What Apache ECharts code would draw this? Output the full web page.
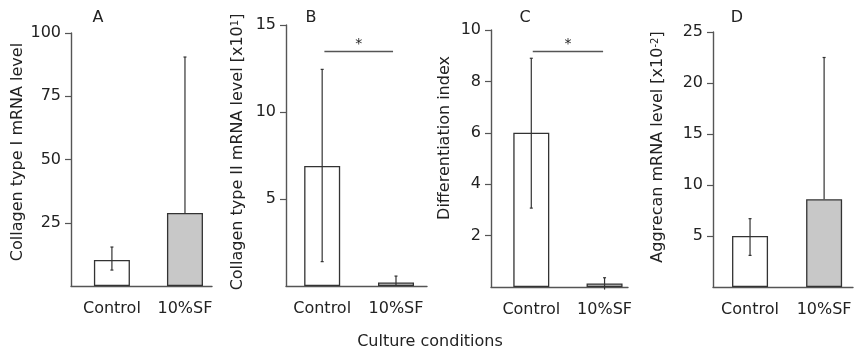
<!DOCTYPE html>
<html>
<head>
<meta charset="utf-8">
<script src="https://cdn.jsdelivr.net/npm/echarts@6/dist/echarts.min.js"></script>
<style>
  html, body { margin: 0; padding: 0; background: #fff; }
  #chart { width: 855px; height: 359px; }
</style>
</head>
<body>
<div id="chart"></div>
<script>
// values
var categories = ['Control', '10%SF'];
var panelLetters = ['A', 'B', 'C', 'D'];

var meanA = [10.3, 28.9];
var lowA = [6.3, 28.9];
var highA = [15.4, 90.5];

var meanB = [6.9, 0.2];
var lowB = [1.4, 0];
var highB = [12.45, 0.57];

var meanC = [6.0, 0.14];
var lowC = [3.07, -0.1];
var highC = [8.9, 0.36];

var meanD = [5.0, 8.6];
var lowD = [3.1, 8.6];
var highD = [6.7, 22.5];

var ticksA = [25, 50, 75, 100];
var ticksB = [5, 10, 15];
var ticksC = [2, 4, 6, 8, 10];
var ticksD = [5, 10, 15, 20, 25];

var barColors = ['#ffffff', '#c8c8c8'];
var FONT = '"DejaVu Sans", sans-serif';
var TXT = '#222';
var AX = '#555';

// layout of each small plot
var panels = [
  { grid: { left: 71, top: 33, width: 141, height: 253 }, xmin: -0.56, xmax: 1.37, ymax: 100, ticks: ticksA, mean: meanA, low: lowA, high: highA },
  { grid: { left: 286, top: 25, width: 141, height: 261 }, xmin: -0.49, xmax: 1.42, ymax: 15, ticks: ticksB, mean: meanB, low: lowB, high: highB, star: [0.03, 0.96, 13.5] },
  { grid: { left: 491, top: 30, width: 137, height: 257 }, xmin: -0.55, xmax: 1.32, ymax: 10, ticks: ticksC, mean: meanC, low: lowC, high: highC, star: [0.02, 0.98, 9.18] },
  { grid: { left: 713, top: 32, width: 140, height: 255 }, xmin: -0.5, xmax: 1.39, ymax: 25, ticks: ticksD, mean: meanD, low: lowD, high: highD }
];

var grids = [], xAxes = [], yAxes = [], series = [];

panels.forEach(function (p, i) {
  grids.push(p.grid);
  xAxes.push({
    type: 'value', gridIndex: i, min: p.xmin, max: p.xmax,
    axisLine: { show: true, lineStyle: { color: AX, width: 1.4 } },
    axisTick: { show: false },
    splitLine: { show: false },
    axisLabel: {
      customValues: [0, 1],
      formatter: function (v) { return categories[Math.round(v)]; },
      color: TXT, fontSize: 16, fontFamily: FONT, margin: 15
    }
  });
  yAxes.push({
    type: 'value', gridIndex: i, min: 0, max: p.ymax,
    axisLine: { show: true, onZero: false, lineStyle: { color: AX, width: 1.4 } },
    axisTick: { show: true, length: 6, customValues: p.ticks, lineStyle: { color: AX, width: 1.2 } },
    splitLine: { show: false },
    axisLabel: { customValues: p.ticks, color: TXT, fontSize: 16, fontFamily: FONT, margin: 10 }
  });

  var bar = {
    type: 'bar', xAxisIndex: i, yAxisIndex: i, barWidth: 36,
    data: p.mean.map(function (v, k) {
      return { value: [k, v], itemStyle: { color: barColors[k] } };
    }),
    itemStyle: { borderColor: '#333', borderWidth: 1.3 },
    silent: true, z: 2
  };
  if (p.star) {
    bar.markLine = {
      symbol: 'none', silent: true,
      lineStyle: { color: AX, type: 'solid', width: 1.3 },
      label: { show: true, position: 'middle', formatter: '*', color: TXT, fontSize: 14, fontFamily: FONT, distance: 0 },
      data: [[{ coord: [p.star[0], p.star[2]] }, { coord: [p.star[1], p.star[2]] }]]
    };
  }
  series.push(bar);

  series.push({
    type: 'custom', xAxisIndex: i, yAxisIndex: i, z: 5, silent: true,
    data: p.mean.map(function (v, k) { return [k, p.low[k], p.high[k]]; }),
    renderItem: function (params, api) {
      var lo = api.coord([api.value(0), api.value(1)]);
      var hi = api.coord([api.value(0), api.value(2)]);
      var st = { stroke: '#333', lineWidth: 1.2 };
      var kids = [
        { type: 'line', shape: { x1: lo[0], y1: lo[1], x2: hi[0], y2: hi[1] }, style: st },
        { type: 'line', shape: { x1: hi[0] - 1.5, y1: hi[1], x2: hi[0] + 1.5, y2: hi[1] }, style: st }
      ];
      if (api.value(1) > 0.5 * p.ymax / 100 && Math.abs(api.value(1) - p.mean[params.dataIndex]) > 0.01) {
        kids.push({ type: 'line', shape: { x1: lo[0] - 1.5, y1: lo[1], x2: lo[0] + 1.5, y2: lo[1] }, style: st });
      }
      return { type: 'group', children: kids };
    }
  });
});

var yTitles = [
  { text: 'Collagen type I mRNA level', x: 18, y: 152 },
  { text: 'Collagen type II mRNA level [x10{sup|1}]', x: 238, y: 152 },
  { text: 'Differentiation index', x: 445, y: 138 },
  { text: 'Aggrecan mRNA level [x10{sup|-2}]', x: 658, y: 147 }
];
var letterX = [98, 311, 525, 737];

var graphics = [];
yTitles.forEach(function (t) {
  graphics.push({
    type: 'text', x: t.x, y: t.y, rotation: Math.PI / 2, silent: true,
    style: {
      text: t.text, fill: TXT, fontSize: 16, fontFamily: FONT,
      textAlign: 'center', textVerticalAlign: 'middle',
      rich: { sup: { fontSize: 10, fontFamily: FONT, fill: TXT, verticalAlign: 'top' } }
    }
  });
});
panelLetters.forEach(function (l, i) {
  graphics.push({
    type: 'text', x: letterX[i], y: 18, silent: true,
    style: { text: l, fill: TXT, fontSize: 16, fontFamily: FONT, textAlign: 'center', textVerticalAlign: 'middle' }
  });
});
graphics.push({
  type: 'text', x: 430, y: 342, silent: true,
  style: { text: 'Culture conditions', fill: TXT, fontSize: 16, fontFamily: FONT, textAlign: 'center', textVerticalAlign: 'middle' }
});

var chart = echarts.init(document.getElementById('chart'), null, { renderer: 'canvas' });
chart.setOption({
  animation: false,
  backgroundColor: '#fff',
  grid: grids,
  xAxis: xAxes,
  yAxis: yAxes,
  series: series,
  graphic: graphics
});
</script>
</body>
</html>
